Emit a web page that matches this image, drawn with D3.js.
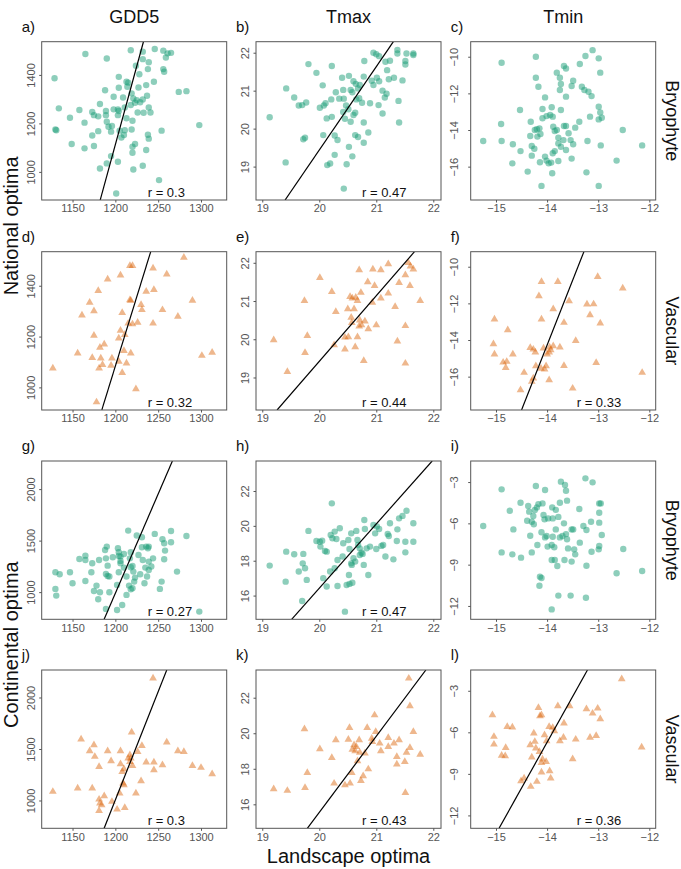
<!DOCTYPE html>
<html lang="en">
<head>
<meta charset="UTF-8" />
<title>optima</title>
<script src="https://d3js.org/d3.v7.min.js"></script>
<style>
  body { margin: 0; background: #fff; }
  text { font-family: "Liberation Sans", Arial, sans-serif; }
</style>
</head>
<body>
<svg width="681" height="869"></svg>
<script>
// column variables, row taxa, panel tags
var variables = ['GDD5', 'Tmax', 'Tmin']
var taxa = ['Bryophyte', 'Vascular', 'Bryophyte', 'Vascular']
var tags = ['a)', 'b)', 'c)', 'd)', 'e)', 'f)', 'g)', 'h)', 'i)', 'j)', 'k)', 'l)']

// axis ranges (data units) and ticks
var xDomains = [[1114, 1330], [18.89, 22.135], [-15.495, -11.875]]
var xTicks = [[1150, 1200, 1250, 1300], [19, 20, 21, 22], [-15, -14, -13, -12]]
var yDomains = [
  [884, 1537], [18.12, 22.29], [-17.82, -9.18],
  [911, 1534], [18.15, 22.29], [-17.82, -9.18],
  [736, 2273], [14.64, 23.72], [-12.97, -1.47],
  [730, 2267], [14.65, 23.56], [-12.93, -1.5]
]
var yTicks = [
  [1000, 1200, 1400], [19, 20, 21, 22], [-16, -14, -12, -10],
  [1000, 1200, 1400], [19, 20, 21, 22], [-16, -14, -12, -10],
  [1000, 1500, 2000], [16, 18, 20, 22], [-12, -9, -6, -3],
  [1000, 1500, 2000], [16, 18, 20, 22], [-12, -9, -6, -3]
]

// correlation coefficients and fitted lines (two end points)
var rValues = [0.3, 0.47, null, 0.32, 0.44, 0.33, 0.27, 0.47, null, 0.3, 0.43, 0.36]
var fits = [
  [[1182.3, 883.8], [1232.8, 1536.8]], [[19.40, 18.12], [21.30, 22.29]], null,
  [[1184.2, 911.5], [1241.3, 1534.4]], [[19.26, 18.15], [21.67, 22.29]], [[-14.50, -17.82], [-13.28, -9.18]],
  [[1186.9, 736], [1266.6, 2273]], [[19.515, 14.64], [21.98, 23.72]], null,
  [[1186.9, 730], [1260, 2267]], [[19.79, 14.65], [21.87, 23.56]], [[-14.94, -12.93], [-13.21, -1.5]]
]

// a) GDD5 national vs landscape, bryophytes
var ptsA = [[1165,1486],[1190,1468],[1218,1502],[1232,1496],[1246,1507],[1256,1500],[1259,1472],[1261,1489],[1265,1491],[1232,1465],[1239,1452],[1224,1438],[1238,1424],[1256,1424],[1257,1413],[1129,1386],[1204,1392],[1213,1372],[1215,1368],[1188,1337],[1204,1347],[1214,1351],[1228,1403],[1227,1348],[1236,1358],[1245,1372],[1274,1330],[1283,1333],[1182,1280],[1198,1310],[1209,1307],[1219,1324],[1221,1303],[1225,1296],[1229,1287],[1232,1299],[1237,1314],[1134,1262],[1158,1255],[1173,1247],[1175,1234],[1180,1229],[1189,1251],[1189,1234],[1198,1258],[1203,1258],[1204,1251],[1203,1234],[1211,1266],[1218,1276],[1223,1285],[1226,1245],[1233,1244],[1239,1266],[1241,1245],[1147,1223],[1164,1203],[1190,1207],[1192,1186],[1196,1189],[1213,1221],[1220,1211],[1130,1175],[1131,1172],[1180,1168],[1173,1150],[1195,1166],[1205,1170],[1211,1172],[1219,1175],[1210,1152],[1207,1142],[1238,1153],[1239,1137],[1254,1170],[1298,1193],[1149,1115],[1164,1097],[1175,1107],[1220,1104],[1223,1115],[1220,1079],[1236,1090],[1195,1065],[1190,1035],[1203,1042],[1182,1014],[1221,1010],[1232,1025],[1251,966],[1201,911]]
// b) Tmax, bryophytes
var ptsB = [[19.13,20.30],[19.42,21.06],[19.56,20.82],[19.64,20.61],[19.70,20.62],[19.77,20.69],[19.81,21.70],[19.95,21.47],[19.72,19.72],[19.75,19.76],[19.41,19.11],[20.01,20.55],[20.08,20.61],[20.11,20.67],[20.06,21.14],[20.22,21.65],[20.07,19.83],[20.13,20.27],[20.22,20.31],[20.21,20.77],[20.29,20.96],[20.35,20.79],[20.40,21.34],[20.43,20.79],[20.42,21.02],[20.27,19.82],[20.32,19.70],[20.27,19.31],[20.14,19.04],[20.19,19.08],[20.48,19.06],[20.43,18.42],[20.52,19.52],[20.58,19.27],[20.47,20.61],[20.51,20.51],[20.52,21.39],[20.55,21.02],[20.58,20.96],[20.60,21.25],[20.42,20.44],[20.45,20.26],[20.60,20.36],[20.63,20.42],[20.55,20.18],[20.64,21.18],[20.68,21.06],[20.70,20.80],[20.75,20.68],[20.78,21.37],[20.71,21.15],[20.65,20.77],[20.63,19.83],[20.68,19.78],[20.78,19.63],[20.78,20.16],[20.86,19.90],[20.79,21.78],[20.92,21.26],[20.95,21.15],[20.89,20.67],[21.04,20.62],[21.01,21.34],[21.05,21.25],[20.95,22.00],[21.00,21.96],[21.05,21.91],[21.16,21.76],[21.24,21.79],[21.11,21.00],[21.15,20.82],[21.11,20.40],[21.19,21.54],[21.22,21.30],[21.31,21.34],[21.37,22.07],[21.37,21.98],[21.39,20.73],[21.40,20.16],[21.46,21.27],[21.51,21.78],[21.51,21.69],[21.53,21.98],[21.65,21.98],[21.65,21.94],[21.18,20.92]]
// c) Tmin, bryophytes
var ptsC = [[-15.25,-14.60],[-14.89,-10.33],[-14.89,-14.60],[-14.90,-13.67],[-14.67,-14.78],[-14.68,-15.82],[-14.52,-15.15],[-14.53,-12.91],[-14.38,-16.27],[-14.32,-13.55],[-14.33,-14.33],[-14.30,-14.87],[-14.30,-15.40],[-14.25,-15.02],[-14.22,-10.00],[-14.22,-11.15],[-14.17,-11.64],[-14.19,-14.36],[-14.24,-14.00],[-14.15,-13.91],[-14.13,-14.22],[-14.09,-13.36],[-14.04,-12.22],[-14.09,-12.85],[-14.01,-13.24],[-14.04,-15.45],[-14.01,-15.67],[-14.11,-17.05],[-14.14,-15.76],[-13.97,-15.82],[-13.92,-15.78],[-13.89,-15.27],[-13.85,-15.15],[-13.90,-16.36],[-13.91,-12.76],[-13.94,-13.18],[-13.89,-13.27],[-13.88,-13.82],[-13.85,-14.05],[-13.81,-14.00],[-13.81,-10.87],[-13.75,-11.15],[-13.73,-11.49],[-13.75,-11.82],[-13.73,-12.91],[-13.78,-14.42],[-13.78,-14.73],[-13.73,-14.91],[-13.78,-15.69],[-13.67,-10.51],[-13.63,-10.64],[-13.63,-12.18],[-13.67,-13.78],[-13.63,-13.78],[-13.68,-14.55],[-13.63,-15.09],[-13.58,-14.18],[-13.49,-11.31],[-13.52,-11.60],[-13.54,-14.55],[-13.49,-14.78],[-13.52,-15.56],[-13.45,-13.87],[-13.37,-13.55],[-13.36,-10.40],[-13.32,-11.64],[-13.27,-11.82],[-13.19,-11.91],[-13.13,-12.15],[-13.25,-9.96],[-13.11,-9.64],[-13.21,-14.60],[-13.23,-16.31],[-13.16,-13.27],[-12.99,-10.09],[-12.96,-10.87],[-12.99,-12.73],[-12.96,-13.04],[-12.93,-13.33],[-12.99,-13.42],[-12.95,-14.84],[-12.99,-17.05],[-12.64,-15.67],[-12.52,-14.00],[-12.14,-14.84],[-14.20,-13.96]]
// d) GDD5, vascular
var ptsD = [[1127,1075],[1156,1134],[1173,1117],[1161,1284],[1170,1334],[1175,1301],[1180,1380],[1191,1426],[1206,1441],[1217,1479],[1220,1479],[1175,1204],[1182,1157],[1187,1170],[1183,1115],[1181,1075],[1185,1089],[1196,1115],[1195,1086],[1204,1102],[1204,1193],[1206,1224],[1208,1294],[1210,1144],[1208,1058],[1213,1095],[1211,1207],[1218,1134],[1215,1252],[1217,1344],[1218,1342],[1220,1249],[1226,1255],[1230,1325],[1231,1305],[1224,994],[1236,1377],[1245,1384],[1244,1469],[1244,1252],[1260,1445],[1255,1305],[1273,1279],[1280,1511],[1290,1342],[1301,1125],[1313,1137],[1178,942]]
// e) Tmax, vascular
var ptsE = [[19.20,19.98],[19.44,19.15],[19.74,21.01],[19.79,20.09],[19.75,19.65],[20.01,21.61],[20.22,21.24],[20.26,19.85],[20.29,20.72],[20.45,20.05],[20.45,19.74],[20.50,20.79],[20.51,20.06],[20.54,21.11],[20.58,21.07],[20.56,20.57],[20.61,20.79],[20.63,19.80],[20.57,20.43],[20.64,21.09],[20.67,21.01],[20.67,20.06],[20.70,21.81],[20.73,21.22],[20.71,20.50],[20.74,20.37],[20.70,20.34],[20.80,20.47],[20.86,20.27],[20.78,19.44],[20.85,21.50],[20.94,21.83],[20.97,21.40],[20.93,20.96],[21.00,20.37],[21.08,21.81],[21.08,21.07],[21.21,21.97],[21.21,21.20],[21.33,20.85],[21.37,19.95],[21.40,21.48],[21.51,20.35],[21.51,19.37],[21.51,21.68],[21.56,22.00],[21.60,21.91],[21.65,21.83],[21.59,21.40],[21.77,21.01]]
// f) Tmin, vascular
var ptsF = [[-15.03,-12.87],[-15.05,-14.22],[-15.03,-14.78],[-14.77,-13.45],[-14.86,-15.22],[-14.79,-15.18],[-14.81,-15.51],[-14.67,-14.78],[-14.52,-16.73],[-14.45,-15.78],[-14.33,-14.42],[-14.27,-14.51],[-14.23,-14.67],[-14.22,-15.42],[-14.30,-16.27],[-14.27,-16.09],[-14.16,-11.60],[-14.11,-10.82],[-14.11,-12.87],[-14.07,-14.45],[-14.12,-15.55],[-14.05,-15.60],[-14.02,-15.42],[-14.00,-14.78],[-13.96,-14.67],[-13.95,-14.40],[-13.93,-14.55],[-13.88,-14.33],[-13.88,-12.31],[-13.96,-16.18],[-13.79,-10.82],[-13.75,-14.40],[-13.67,-13.05],[-13.67,-15.40],[-13.57,-11.87],[-13.50,-16.64],[-13.44,-14.04],[-13.22,-12.05],[-13.09,-12.04],[-13.16,-12.64],[-13.04,-15.24],[-13.01,-10.55],[-12.96,-13.09],[-12.52,-11.18],[-12.14,-15.78]]
// g) GDD5 continental, bryophytes
var ptsG = [[1130,1193],[1135,1173],[1130,1031],[1131,966],[1147,1193],[1150,1086],[1158,1322],[1165,1354],[1165,1312],[1165,1108],[1173,1280],[1172,1193],[1175,1011],[1178,1063],[1180,930],[1182,998],[1181,1312],[1188,1409],[1190,1442],[1189,1328],[1189,1176],[1191,1257],[1191,1157],[1193,1151],[1193,998],[1197,1338],[1189,837],[1202,827],[1203,1426],[1204,1387],[1204,1351],[1204,1193],[1202,1070],[1206,1345],[1206,1280],[1208,875],[1210,1238],[1213,1151],[1213,973],[1216,1063],[1215,1597],[1218,1387],[1217,1328],[1218,1241],[1220,1254],[1221,1199],[1220,1037],[1218,1028],[1222,1102],[1223,1141],[1225,1549],[1227,1361],[1229,1173],[1231,1532],[1231,1435],[1232,1312],[1235,1238],[1234,1086],[1236,1442],[1238,1426],[1239,1296],[1239,1215],[1239,1442],[1242,1248],[1237,1151],[1246,1565],[1244,1328],[1252,1031],[1254,1102],[1255,1513],[1258,1403],[1257,1474],[1257,1319],[1265,1594],[1265,1484],[1272,1199],[1283,1545],[1298,811],[1210,1370],[1206,1303]]
// h) Tmax continental, bryophytes
var ptsH = [[19.13,17.72],[19.41,16.80],[19.42,18.52],[19.56,18.37],[19.72,18.39],[19.71,17.85],[19.75,17.57],[19.64,17.38],[19.78,16.90],[19.70,15.69],[19.81,19.71],[19.95,19.13],[20.01,19.09],[20.02,18.81],[20.05,19.15],[20.10,18.56],[20.13,18.52],[20.07,17.00],[20.13,16.52],[20.22,21.29],[20.20,19.48],[20.23,19.29],[20.27,19.67],[20.30,19.25],[20.36,19.86],[20.32,18.04],[20.27,17.57],[20.19,17.38],[20.32,16.55],[20.41,18.24],[20.42,19.00],[20.45,15.08],[20.51,19.19],[20.53,18.67],[20.56,19.57],[20.56,17.85],[20.57,17.76],[20.52,17.18],[20.48,16.61],[20.53,16.67],[20.58,16.74],[20.60,18.14],[20.63,17.95],[20.65,19.71],[20.67,19.19],[20.68,18.90],[20.71,18.71],[20.74,18.46],[20.71,18.33],[20.76,18.39],[20.79,20.34],[20.80,19.82],[20.78,17.76],[20.86,17.18],[20.83,18.71],[20.89,18.81],[20.95,20.05],[20.98,19.57],[21.01,19.96],[21.00,18.67],[21.05,19.82],[21.09,18.85],[21.12,18.90],[21.16,18.24],[21.20,19.53],[21.22,19.42],[21.24,20.15],[21.30,18.08],[21.37,19.80],[21.36,19.13],[21.40,20.43],[21.46,20.57],[21.51,19.09],[21.51,18.48],[21.53,20.87],[21.65,20.15],[21.65,19.09]]
// i) Tmin continental, bryophytes
var ptsI = [[-15.25,-6.19],[-14.89,-3.53],[-14.73,-5.08],[-14.66,-6.44],[-14.52,-4.50],[-14.89,-8.11],[-14.68,-8.25],[-14.51,-8.49],[-14.39,-5.81],[-14.37,-4.74],[-14.35,-5.15],[-14.30,-5.88],[-14.27,-5.47],[-14.24,-5.03],[-14.20,-4.84],[-14.17,-4.60],[-14.26,-6.07],[-14.33,-6.90],[-14.30,-8.11],[-14.22,-3.29],[-14.19,-7.57],[-14.14,-9.87],[-14.15,-10.53],[-14.11,-9.97],[-14.09,-4.55],[-14.07,-5.39],[-14.05,-5.71],[-14.04,-3.58],[-14.11,-6.65],[-14.04,-7.02],[-14.01,-6.92],[-13.99,-7.69],[-13.98,-5.64],[-13.90,-4.84],[-13.91,-7.57],[-13.89,-5.64],[-13.89,-6.97],[-13.86,-7.74],[-13.91,-8.66],[-13.85,-8.66],[-13.91,-12.25],[-13.80,-9.10],[-13.83,-5.02],[-13.78,-5.53],[-13.75,-4.50],[-13.83,-6.44],[-13.75,-7.02],[-13.70,-6.92],[-13.73,-2.97],[-13.65,-3.21],[-13.63,-3.63],[-13.61,-4.35],[-13.67,-6.00],[-13.63,-6.78],[-13.61,-7.16],[-13.66,-8.66],[-13.59,-7.82],[-13.52,-6.44],[-13.49,-6.44],[-13.52,-8.78],[-13.47,-7.89],[-13.45,-8.25],[-13.54,-11.25],[-13.78,-11.25],[-13.37,-4.96],[-13.36,-7.40],[-13.29,-6.19],[-13.25,-2.73],[-13.23,-6.48],[-13.23,-9.08],[-13.24,-11.40],[-13.14,-5.88],[-13.13,-8.06],[-13.11,-3.02],[-12.98,-4.55],[-12.95,-4.55],[-12.98,-5.23],[-12.98,-5.95],[-12.98,-7.65],[-12.99,-7.89],[-12.93,-6.85],[-12.64,-9.63],[-12.51,-7.86],[-12.14,-9.46]]
// j) GDD5 continental, vascular
var ptsJ = [[1127,1086],[1156,1118],[1173,1118],[1160,1594],[1170,1481],[1175,1539],[1176,1426],[1181,1328],[1191,1481],[1195,1383],[1206,1481],[1206,1354],[1208,1280],[1210,1306],[1210,1151],[1181,1011],[1182,973],[1184,956],[1181,901],[1187,1044],[1196,989],[1202,914],[1205,1070],[1209,1167],[1211,930],[1215,1409],[1217,1442],[1217,1377],[1218,1409],[1219,1662],[1220,1338],[1224,1070],[1226,1474],[1231,1532],[1230,1189],[1236,1371],[1244,2186],[1245,1296],[1245,1371],[1255,1345],[1260,1565],[1273,1481],[1280,1474],[1290,1338],[1300,1319],[1313,1257]]
// k) Tmax continental, vascular
var ptsK = [[19.20,16.86],[19.44,16.77],[19.75,16.93],[19.74,20.24],[19.79,17.78],[20.01,19.11],[20.22,18.62],[20.26,17.18],[20.29,19.62],[20.45,17.08],[20.51,19.65],[20.54,17.18],[20.53,20.31],[20.57,17.78],[20.58,19.09],[20.61,19.34],[20.63,19.00],[20.65,19.24],[20.67,18.44],[20.70,19.62],[20.71,18.92],[20.73,17.33],[20.77,17.59],[20.80,18.87],[20.86,17.98],[20.84,20.31],[20.92,19.71],[20.93,19.52],[20.97,21.02],[20.99,20.09],[21.06,19.43],[21.08,19.00],[21.21,19.75],[21.21,19.24],[21.31,19.43],[21.36,18.68],[21.36,18.25],[21.40,19.62],[21.50,18.40],[21.51,16.65],[21.53,18.92],[21.57,23.09],[21.59,21.53],[21.59,19.19],[21.65,20.09],[21.77,18.81]]
// l) Tmin continental, vascular
var ptsL = [[-15.07,-4.75],[-15.04,-6.31],[-15.04,-6.87],[-14.81,-7.11],[-14.89,-7.68],[-14.82,-7.71],[-14.78,-5.59],[-14.68,-5.64],[-14.51,-9.51],[-14.45,-9.32],[-14.33,-6.91],[-14.32,-9.92],[-14.30,-7.80],[-14.26,-6.07],[-14.24,-6.67],[-14.22,-7.15],[-14.20,-9.56],[-14.17,-4.22],[-14.14,-4.82],[-14.11,-4.75],[-14.15,-7.40],[-14.11,-8.19],[-14.09,-7.95],[-14.05,-6.19],[-14.01,-6.63],[-14.02,-8.12],[-13.96,-5.59],[-13.95,-8.79],[-14.11,-8.89],[-13.93,-9.32],[-13.89,-5.66],[-13.86,-5.90],[-13.79,-4.10],[-13.75,-6.63],[-13.68,-6.38],[-13.67,-5.35],[-13.56,-4.10],[-13.50,-7.92],[-13.44,-6.51],[-13.23,-4.32],[-13.16,-6.38],[-13.11,-4.63],[-13.04,-6.24],[-13.01,-4.27],[-12.96,-5.04],[-12.54,-2.15],[-12.15,-7.08]]

var panelPoints = [ptsA, ptsB, ptsC, ptsD, ptsE, ptsF, ptsG, ptsH, ptsI, ptsJ, ptsK, ptsL]

// layout
var svg = d3.select('svg')
var colLeft = [41.7, 256, 470.7]
var rowTop = [41.7, 251.7, 461, 670]
var pw = 185
var ph = 158.3
var green = '#1b9e77'
var orange = '#d95f02'
var axisGrey = '#555'
var labelGap = [7, 7, 13]
var fmt = d3.format('d')

var triangle = d3.symbol().type(d3.symbolTriangle).size(26)

for (var r = 0; r < 4; r++) {
  for (var c = 0; c < 3; c++) {
    var i = r * 3 + c
    var x0 = colLeft[c]
    var y0 = rowTop[r]
    var x = d3.scaleLinear().domain(xDomains[c]).range([0, pw])
    var y = d3.scaleLinear().domain(yDomains[i]).range([ph, 0])

    var g = svg.append('g').attr('transform', 'translate(' + x0 + ',' + y0 + ')')

    g.append('clipPath').attr('id', 'clip' + i)
      .append('rect').attr('width', pw).attr('height', ph)

    // x axis
    var xa = g.append('g').attr('transform', 'translate(0,' + ph + ')')
      .call(d3.axisBottom(x).tickValues(xTicks[c]).tickFormat(fmt).tickSize(2.5).tickPadding(2))
    xa.select('.domain').remove()
    xa.selectAll('line').attr('stroke', axisGrey)
    xa.selectAll('text').attr('font-size', 11).attr('fill', '#555')
      .attr('font-family', '"Liberation Sans", Arial, sans-serif')

    // y axis, labels turned
    var ya = g.append('g')
      .call(d3.axisLeft(y).tickValues(yTicks[i]).tickSize(2.5).tickFormat(fmt))
    ya.select('.domain').remove()
    ya.selectAll('line').attr('stroke', axisGrey)
    ya.selectAll('text')
      .attr('x', null).attr('dy', null)
      .attr('text-anchor', 'middle')
      .attr('transform', 'translate(' + (-labelGap[c]) + ',0) rotate(-90)')
      .attr('font-size', 11).attr('fill', '#555')
      .attr('font-family', '"Liberation Sans", Arial, sans-serif')

    // points
    var pts = panelPoints[i]
    if (r % 2 === 0) {
      g.append('g').selectAll('circle').data(pts).enter().append('circle')
        .attr('cx', function (d) { return x(d[0]) })
        .attr('cy', function (d) { return y(d[1]) })
        .attr('r', 3.2)
        .attr('fill', green)
        .attr('fill-opacity', 0.5)
    } else {
      g.append('g').selectAll('path').data(pts).enter().append('path')
        .attr('d', triangle)
        .attr('transform', function (d) { return 'translate(' + x(d[0]) + ',' + y(d[1]) + ')' })
        .attr('fill', orange)
        .attr('fill-opacity', 0.45)
    }

    // fitted line
    if (fits[i]) {
      g.append('line')
        .attr('clip-path', 'url(#clip' + i + ')')
        .attr('x1', x(fits[i][0][0])).attr('y1', y(fits[i][0][1]))
        .attr('x2', x(fits[i][1][0])).attr('y2', y(fits[i][1][1]))
        .attr('stroke', '#000').attr('stroke-width', 1.2)
    }

    // frame
    g.append('rect').attr('width', pw).attr('height', ph)
      .attr('fill', 'none').attr('stroke', '#555').attr('stroke-width', 1)

    // r annotation
    if (rValues[i] !== null) {
      g.append('text').attr('x', 106).attr('y', ph - 3)
        .attr('font-size', 13).attr('fill', '#111')
        .text('r = ' + rValues[i])
    }

    // panel tag
    svg.append('text').attr('x', x0 - 20).attr('y', y0 - 10)
      .attr('font-size', 15).attr('fill', '#111')
      .text(tags[i])
  }
}

// column titles
variables.forEach(function (v, c) {
  svg.append('text').attr('x', colLeft[c] + pw / 2).attr('y', 23)
    .attr('text-anchor', 'middle').attr('font-size', 18).attr('fill', '#111')
    .text(v)
})

// row strips on the right
taxa.forEach(function (t, r) {
  svg.append('text')
    .attr('transform', 'translate(666,' + (rowTop[r] + ph / 2) + ') rotate(90)')
    .attr('text-anchor', 'middle').attr('font-size', 18).attr('fill', '#111')
    .text(t)
})

// outer axis titles
svg.append('text')
  .attr('transform', 'translate(18,' + ((rowTop[0] + rowTop[1] + ph) / 2) + ') rotate(-90)')
  .attr('text-anchor', 'middle').attr('font-size', 20).attr('fill', '#111')
  .text('National optima')
svg.append('text')
  .attr('transform', 'translate(18,' + ((rowTop[2] + rowTop[3] + ph) / 2) + ') rotate(-90)')
  .attr('text-anchor', 'middle').attr('font-size', 20).attr('fill', '#111')
  .text('Continental optima')
svg.append('text').attr('x', colLeft[1] + pw / 2).attr('y', 863)
  .attr('text-anchor', 'middle').attr('font-size', 20).attr('fill', '#111')
  .text('Landscape optima')
</script>
</body>
</html>
